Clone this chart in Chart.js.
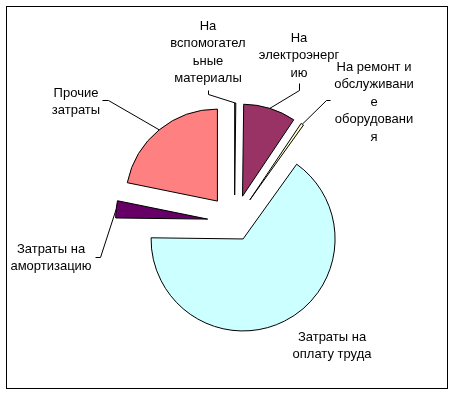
<!DOCTYPE html>
<html>
<head>
<meta charset="utf-8">
<script src="https://cdn.jsdelivr.net/npm/chart.js@4.4.0/dist/chart.umd.min.js"></script>
<style>
    html, body { margin: 0; padding: 0; background: #fff; }
    #wrap { position: relative; width: 454px; height: 394px; }
</style>
</head>
<body>
<div id="wrap"><canvas id="costChart" width="454" height="394"></canvas></div>
<script>
// data (share of costs, %)
const labels = [
    'На вспомогательные материалы',
    'На электроэнергию',
    'На ремонт и обслуживание оборудования',
    'Затраты на оплату труда',
    'Затраты на амортизацию',
    'Прочие затраты',
];
const values = [0.2, 9.2, 0.5, 65.3, 3.0, 21.8];
const colors = ['#9999FF', '#993366', '#FFFFCC', '#CCFFFF', '#660066', '#FF8080'];

// wrapped label text, as in the picture
const labelLines = [
    ['На', 'вспомогател', 'ьные', 'материалы'],
    ['На', 'электроэнерг', 'ию'],
    ['На ремонт и', 'обслуживани', 'е', 'оборудовани', 'я'],
    ['Затраты на', 'оплату труда'],
    ['Затраты на', 'амортизацию'],
    ['Прочие', 'затраты'],
];

// how far each slice is pulled out of the pie (px)
const explode = [27, 27, 27, 19, 27, 27];

// label block centre + leader start (layout only)
const labelLayout = [
    { x: 208, y: 26, lead: [[208, 90], [208, 94]] },
    { x: 299, y: 38, lead: [[299, 83], [299, 90]] },
    { x: 374, y: 67, lead: [[330, 100], [326, 100]] },
    { x: 332, y: 337, lead: null },
    { x: 51, y: 249, lead: [[95, 257], [100, 257]] },
    { x: 76, y: 93, lead: [[102, 100], [108, 100]] },
];

const explodePlugin = {
    id: 'explode',
    afterDatasetsUpdate(chart) {
        const arcs = chart.getDatasetMeta(0).data;
        arcs.forEach((arc, i) => {
            const mid = (arc.startAngle + arc.endAngle) / 2;
            arc.x += Math.cos(mid) * explode[i];
            arc.y += Math.sin(mid) * explode[i];
        });
    },
};

const labelPlugin = {
    id: 'sliceLabels',
    afterDatasetsDraw(chart) {
        const ctx = chart.ctx;
        const arcs = chart.getDatasetMeta(0).data;
        ctx.save();
        ctx.font = '13px "Liberation Sans", Arial, sans-serif';
        ctx.fillStyle = '#000';
        ctx.textAlign = 'center';
        ctx.textBaseline = 'middle';
        ctx.strokeStyle = '#000';
        ctx.lineWidth = 1;
        arcs.forEach((arc, i) => {
            const lay = labelLayout[i];
            labelLines[i].forEach((line, j) => {
                ctx.fillText(line, lay.x, lay.y + j * 17.5);
            });
            if (lay.lead) {
                const mid = (arc.startAngle + arc.endAngle) / 2;
                const ex = arc.x + Math.cos(mid) * arc.outerRadius;
                const ey = arc.y + Math.sin(mid) * arc.outerRadius;
                ctx.beginPath();
                ctx.moveTo(lay.lead[0][0] + 0.5, lay.lead[0][1] + 0.5);
                ctx.lineTo(lay.lead[1][0] + 0.5, lay.lead[1][1] + 0.5);
                ctx.lineTo(ex, ey);
                ctx.stroke();
            }
        });
        ctx.restore();
    },
};

const framePlugin = {
    id: 'frame',
    beforeDraw(chart) {
        const ctx = chart.ctx;
        ctx.save();
        ctx.fillStyle = '#fff';
        ctx.fillRect(0, 0, chart.width, chart.height);
        ctx.strokeStyle = '#000';
        ctx.lineWidth = 1;
        ctx.strokeRect(6.5, 6.5, 441, 382);
        ctx.restore();
    },
};

let ctx = document.getElementById('costChart');
let costChart = new Chart(ctx, {
    type: 'pie',
    data: {
        labels: labels,
        datasets: [
            {
                data: values,
                backgroundColor: colors,
                borderColor: '#000',
                borderWidth: 1,
            },
        ],
    },
    options: {
        responsive: false,
        animation: false,
        radius: 92,
        layout: {
            padding: { left: 15, right: 0, top: 50, bottom: 0 },
        },
        plugins: {
            legend: { display: false },
            tooltip: { enabled: false },
        },
    },
    plugins: [framePlugin, explodePlugin, labelPlugin],
});
</script>
</body>
</html>
